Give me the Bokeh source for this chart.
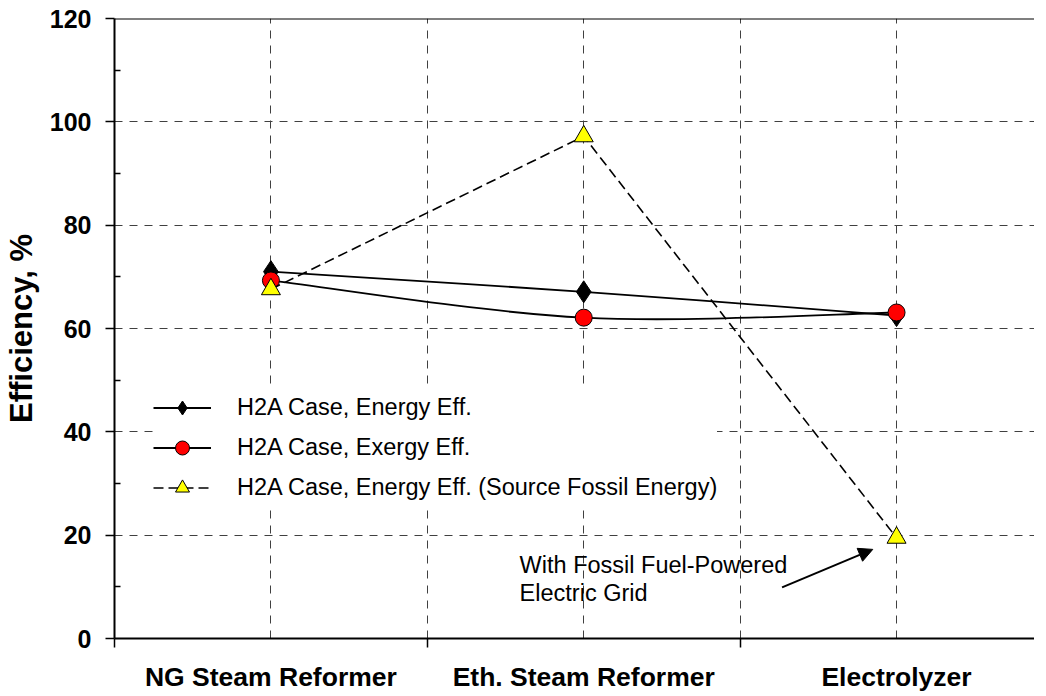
from bokeh.plotting import figure
from bokeh.models import (Range1d, FixedTicker, Legend, LegendItem, Label, Arrow,
                          NormalHead, Span, ColumnDataSource)
from bokeh.embed import file_html
from bokeh.resources import INLINE

# ---------------- data ----------------
CATEGORIES = ["NG Steam Reformer", "Eth. Steam Reformer", "Electrolyzer"]
ENERGY_EFF = [71.0, 67.1, 62.5]
EXERGY_EFF = [69.3, 62.1, 63.1]
FOSSIL_EFF = [67.6, 97.2, 19.5]
Y_TICKS = [0, 20, 40, 60, 80, 100, 120]
Y_MINOR = [10, 30, 50, 70, 90, 110]
SERIES_LABELS = ["H2A Case, Energy Eff.",
                 "H2A Case, Exergy Eff.",
                 "H2A Case, Energy Eff. (Source Fossil Energy)"]
ANNOTATION_LINES = ["With Fossil Fuel-Powered", "Electric Grid"]
Y_TITLE = "Efficiency, %"

FONT = "Liberation Sans"
xs = [i + 1 for i in range(len(CATEGORIES))]
bounds = [x - 0.5 for x in xs] + [xs[-1] + 0.5]


def smooth_segments(x, y):
    """Excel-style smoothed line: cubic Bezier segments (Catmull-Rom controls)."""
    n = len(x)
    seg = dict(x0=[], y0=[], x1=[], y1=[], cx0=[], cy0=[], cx1=[], cy1=[])
    for i in range(n - 1):
        im1 = max(i - 1, 0)
        ip2 = min(i + 2, n - 1)
        seg["x0"].append(x[i]); seg["y0"].append(y[i])
        seg["x1"].append(x[i + 1]); seg["y1"].append(y[i + 1])
        seg["cx0"].append(x[i] + (x[i + 1] - x[im1]) / 6)
        seg["cy0"].append(y[i] + (y[i + 1] - y[im1]) / 6)
        seg["cx1"].append(x[i + 1] - (x[ip2] - x[i]) / 6)
        seg["cy1"].append(y[i + 1] - (y[ip2] - y[i]) / 6)
    return ColumnDataSource(seg)


p = figure(width=1034, height=694,
           x_range=Range1d(0.5, 3.441), y_range=Range1d(0, 120),
           output_backend="svg", toolbar_location=None,
           min_border_left=112, min_border_right=0,
           min_border_top=18, min_border_bottom=50)
p.outline_line_color = None
p.background_fill_color = "white"
p.border_fill_color = "white"

# ---------------- axes ----------------
xticker = FixedTicker(ticks=xs, minor_ticks=bounds)
p.xaxis.ticker = xticker
p.xaxis.major_label_overrides = {x: c for x, c in zip(xs, CATEGORIES)}
p.xaxis.major_label_text_font = FONT
p.xaxis.major_label_text_font_size = "26.5px"
p.xaxis.major_label_text_font_style = "bold"
p.xaxis.major_label_text_color = "black"
p.xaxis.major_label_standoff = 14
p.xaxis.major_tick_out = 0
p.xaxis.major_tick_in = 0
p.xaxis.minor_tick_out = 9
p.xaxis.minor_tick_in = 0
p.xaxis.minor_tick_line_color = "black"
p.xaxis.minor_tick_line_width = 1.5
p.xaxis.axis_line_color = "black"
p.xaxis.axis_line_width = 2

yticker = FixedTicker(ticks=Y_TICKS, minor_ticks=Y_MINOR)
p.yaxis.ticker = yticker
p.yaxis.major_label_text_font = FONT
p.yaxis.major_label_text_font_size = "25px"
p.yaxis.major_label_text_font_style = "bold"
p.yaxis.major_label_text_color = "black"
p.yaxis.major_label_standoff = 14
p.yaxis.major_tick_out = 9
p.yaxis.major_tick_in = 0
p.yaxis.major_tick_line_color = "black"
p.yaxis.major_tick_line_width = 1.5
p.yaxis.minor_tick_in = 6
p.yaxis.minor_tick_out = 0
p.yaxis.minor_tick_line_color = "black"
p.yaxis.minor_tick_line_width = 1.5
p.yaxis.axis_line_color = "black"
p.yaxis.axis_line_width = 2
p.yaxis.axis_label = Y_TITLE
p.yaxis.axis_label_text_font = FONT
p.yaxis.axis_label_text_font_size = "31px"
p.yaxis.axis_label_text_font_style = "bold"
p.yaxis.axis_label_text_color = "black"
p.yaxis.axis_label_standoff = 8

# ---------------- grid ----------------
p.xgrid.ticker = xticker
p.xgrid.grid_line_color = "#404040"
p.xgrid.grid_line_dash = "8 7"
p.xgrid.grid_line_width = 1
p.xgrid.minor_grid_line_color = "#404040"
p.xgrid.minor_grid_line_dash = "8 7"
p.xgrid.minor_grid_line_width = 1
p.ygrid.ticker = yticker
p.ygrid.grid_line_color = "#404040"
p.ygrid.grid_line_dash = "8 7"
p.ygrid.grid_line_width = 1
p.ygrid.minor_grid_line_color = None

p.add_layout(Span(location=Y_TICKS[-1], dimension="width",
                  line_color="black", line_width=2))

# ---------------- series ----------------
r_e_line = p.bezier(x0="x0", y0="y0", x1="x1", y1="y1", cx0="cx0", cy0="cy0",
                    cx1="cx1", cy1="cy1", source=smooth_segments(xs, ENERGY_EFF),
                    line_color="black", line_width=1.8)
r_e_mark = p.scatter(xs, ENERGY_EFF, marker="diamond", size=22,
                     fill_color="black", line_color="black", line_width=1)

r_x_line = p.bezier(x0="x0", y0="y0", x1="x1", y1="y1", cx0="cx0", cy0="cy0",
                    cx1="cx1", cy1="cy1", source=smooth_segments(xs, EXERGY_EFF),
                    line_color="black", line_width=1.8)
r_x_mark = p.scatter(xs, EXERGY_EFF, marker="circle", size=17,
                     fill_color="#FF0000", line_color="black", line_width=1)

r_f_line = p.line(xs, FOSSIL_EFF, line_color="black", line_width=1.6,
                  line_dash="10 5")
r_f_mark = p.scatter(xs, FOSSIL_EFF, marker="triangle", size=19,
                     fill_color="#FFFF00", line_color="black", line_width=1)

# ---------------- legend ----------------
legend = Legend(items=[
    LegendItem(label=SERIES_LABELS[0], renderers=[r_e_line, r_e_mark]),
    LegendItem(label=SERIES_LABELS[1], renderers=[r_x_line, r_x_mark]),
    LegendItem(label=SERIES_LABELS[2], renderers=[r_f_line, r_f_mark]),
], location=(39, 133), padding=8, spacing=5, glyph_width=58, glyph_height=35,
    label_standoff=26, margin=0, border_line_color=None,
    background_fill_color="white", background_fill_alpha=1.0,
    label_text_font=FONT, label_text_font_size="23.5px",
    label_text_color="black")
p.add_layout(legend)

# ---------------- annotation ----------------
p.add_layout(Label(x=1.795, y=14.15, text=ANNOTATION_LINES[0],
                   text_font=FONT, text_font_size="23.5px",
                   text_baseline="middle", text_align="left", text_color="black"))
p.add_layout(Label(x=1.795, y=8.72, text=ANNOTATION_LINES[1],
                   text_font=FONT, text_font_size="23.5px",
                   text_baseline="middle", text_align="left", text_color="black"))
p.add_layout(Arrow(end=NormalHead(size=14, fill_color="black", line_color="black"),
                   x_start=2.634, y_start=9.89, x_end=2.924, y_end=17.25,
                   line_color="black", line_width=2))

open("out.html", "w").write(file_html(p, INLINE))
